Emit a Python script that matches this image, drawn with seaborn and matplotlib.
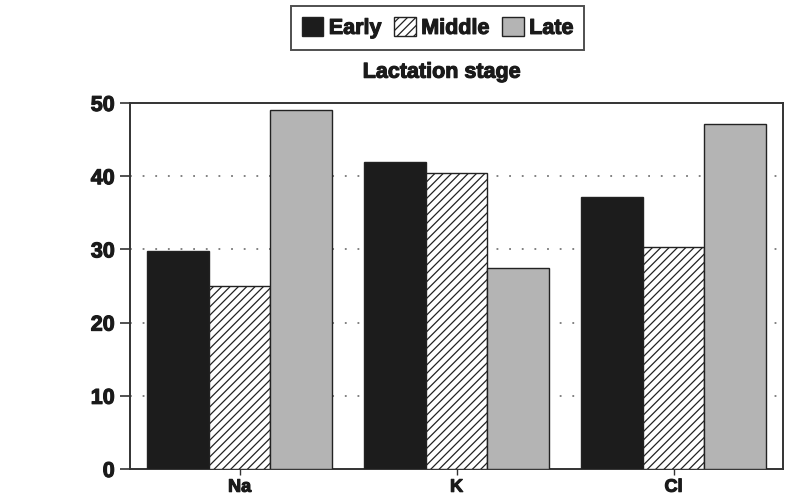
import pandas as pd
import matplotlib
matplotlib.use("Agg")
import matplotlib.pyplot as plt
import matplotlib.patheffects as pe
import seaborn as sns

# values
ions = ['Na', 'K', 'Cl']
stages = ['Early', 'Middle', 'Late']
early = [29.8, 42.0, 37.1]
middle = [25.0, 40.5, 30.3]
late = [49.0, 27.4, 47.1]

df = pd.DataFrame({
    'ion': ions * 3,
    'stage': [s for s in stages for _ in ions],
    'value': early + middle + late,
})

sns.set_style('white')
plt.rcParams['font.family'] = ['Liberation Sans', 'DejaVu Sans']
plt.rcParams['font.weight'] = 'bold'
plt.rcParams['hatch.linewidth'] = 0.9

# thicken the text a bit, the original uses a heavy face
heavy = [pe.withStroke(linewidth=0.8, foreground='#1a1a1a')]

fig = plt.figure(figsize=(8.09, 4.98), dpi=100)
ax = fig.add_axes([0.1607, 0.0582, 0.968 - 0.1607, 0.7932 - 0.0582])

colors = {'Early': '#1c1c1c', 'Middle': 'white', 'Late': '#b4b4b4'}
sns.barplot(data=df, x='ion', y='value', hue='stage', order=ions, hue_order=stages,
            palette=colors, width=0.855, saturation=1, edgecolor='#222222',
            linewidth=1.0, ax=ax, zorder=3)

# hatch the middle stage
for cont, st in zip(ax.containers, stages):
    for p in cont:
        if st == 'Middle':
            p.set_hatch('////')

ax.get_legend().remove()

ax.set_ylim(0, 50)
ax.set_xlim(-0.505, 2.505)
ax.set_yticks([0, 10, 20, 30, 40, 50])
ax.set_yticklabels(['0', '10', '20', '30', '40', '50'], fontsize=15.5, fontweight='bold', color='#1a1a1a')
ax.set_xticklabels(ions, fontsize=13, fontweight='bold', color='#1a1a1a')
for t in ax.get_yticklabels() + ax.get_xticklabels():
    t.set_path_effects(heavy)
ax.set_xlabel('')
ax.set_ylabel('')

# dotted gridlines behind the bars
for y in [10, 20, 30, 40]:
    ax.axhline(y, color='#777777', linestyle=(0, (1, 6)), linewidth=1.3, zorder=1)

for s in ax.spines.values():
    s.set_color('#333333')
    s.set_linewidth(1.4)

ax.tick_params(axis='y', which='major', direction='out', length=7, width=1.2, color='#333333', pad=4, left=True)
ax.tick_params(axis='x', which='major', direction='out', length=4, width=1, color='#333333', pad=3, bottom=True)

handles = [cont[0] for cont in ax.containers]
leg = fig.legend(handles, stages, loc='center', bbox_to_anchor=(0.541, 0.944), ncol=3,
                 frameon=True, fancybox=False, edgecolor='#222222', handlelength=1.0,
                 handleheight=1.0, handletextpad=0.25, columnspacing=0.6, borderpad=0.5,
                 prop={'weight': 'bold', 'size': 15.5})
leg.get_frame().set_linewidth(1.4)
for t in leg.get_texts():
    t.set_color('#1a1a1a')
    t.set_path_effects(heavy)

fig.text(0.546, 0.855, 'Lactation stage', ha='center', va='center', fontsize=15.5,
         fontweight='bold', color='#1a1a1a', path_effects=heavy)

fig.savefig('out.png', dpi=100)
